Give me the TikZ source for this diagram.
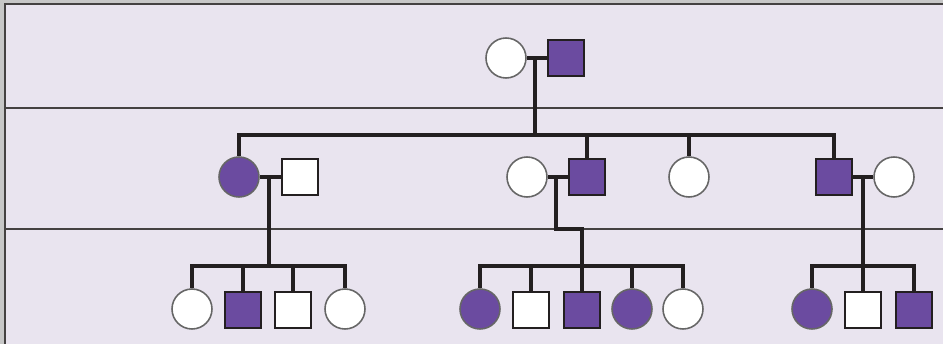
\documentclass[tikz,border=0pt]{standalone}
\usepackage{tikz}
\usetikzlibrary{calc}
\definecolor{lilac}{HTML}{E9E4EF}
\definecolor{affect}{HTML}{6B4BA0}
\definecolor{ink}{HTML}{231F20}

\begin{document}
\begin{tikzpicture}[x=0.02cm,y=-0.02cm]
\tikzstyle{female}=[circle,draw=black!60,line width=0.9pt,fill=white,minimum size=0.8cm,inner sep=0pt]
\tikzstyle{male}=[rectangle,draw=ink,line width=0.8pt,fill=white,minimum size=0.72cm,inner sep=0pt]
\tikzstyle{aff}=[fill=affect]
\tikzstyle{family}=[draw=ink,line width=2.2pt]
\tikzstyle{rows}=[draw=ink!85,line width=0.9pt]
\useasboundingbox (0,0) rectangle (943,344);
% page and generation rows
\fill[black!22] (0,0) rectangle (943,344);
\fill[lilac] (5,4) rectangle (943,344);
\draw[rows] (5,344) -- (5,4) -- (943,4);
\draw[rows] (5,108) -- (943,108);
\draw[rows] (5,229) -- (943,229);
% generation I
\node[female] (i1) at (506,58) {};
\node[male,aff] (i2) at (566,58) {};
% generation II
\node[female,aff] (ii1) at (239,177) {};
\node[male] (ii2) at (300,177) {};
\node[female] (ii3) at (527,177) {};
\node[male,aff] (ii4) at (587,177) {};
\node[female] (ii5) at (689,177) {};
\node[male,aff] (ii6) at (834,177) {};
\node[female] (ii7) at (894,177) {};
% generation III
\node[female] (iii1) at (192,309) {};
\node[male,aff] (iii2) at (243,310) {};
\node[male] (iii3) at (293,310) {};
\node[female] (iii4) at (345,309) {};
\node[female,aff] (iii5) at (480,309) {};
\node[male] (iii6) at (531,310) {};
\node[male,aff] (iii7) at (582,310) {};
\node[female,aff] (iii8) at (632,309) {};
\node[female] (iii9) at (683,309) {};
\node[female,aff] (iii10) at (812,309) {};
\node[male] (iii11) at (863,310) {};
\node[male,aff] (iii12) at (914,310) {};
% junctions
\coordinate (m1) at (535,58);
\coordinate (s1) at (535,135);
\coordinate (m2) at (269,177);
\coordinate (s2) at (269,266);
\coordinate (m3) at (556,177);
\coordinate (j3) at (582,229);
\coordinate (s3) at (582,266);
\coordinate (m4) at (863,177);
\coordinate (s4) at (863,266);
% couple and descent lines
\draw[family] (i1) -- (i2);
\draw[family] (m1) -- (s1);
\draw[family] (ii1.north) |- (s1) -| (ii6.north);
\draw[family] (ii4.north) -- (ii4.north |- s1);
\draw[family] (ii5.north) -- (ii5.north |- s1);
\draw[family] (ii1) -- (ii2);
\draw[family] (ii3) -- (ii4);
\draw[family] (ii6) -- (ii7);
\draw[family] (m2) -- (s2);
\draw[family] (iii1.north) |- (s2) -| (iii4.north);
\foreach \k in {iii2,iii3}
  \draw[family] (\k.north) -- (\k.north |- s2);
\draw[family] (m3) |- (j3) -- (iii7.north);
\draw[family] (iii5.north) |- (s3) -| (iii9.north);
\foreach \k in {iii6,iii8}
  \draw[family] (\k.north) -- (\k.north |- s3);
\draw[family] (m4) -- (iii11.north);
\draw[family] (iii10.north) |- (s4) -| (iii12.north);
\end{tikzpicture}
\end{document}
